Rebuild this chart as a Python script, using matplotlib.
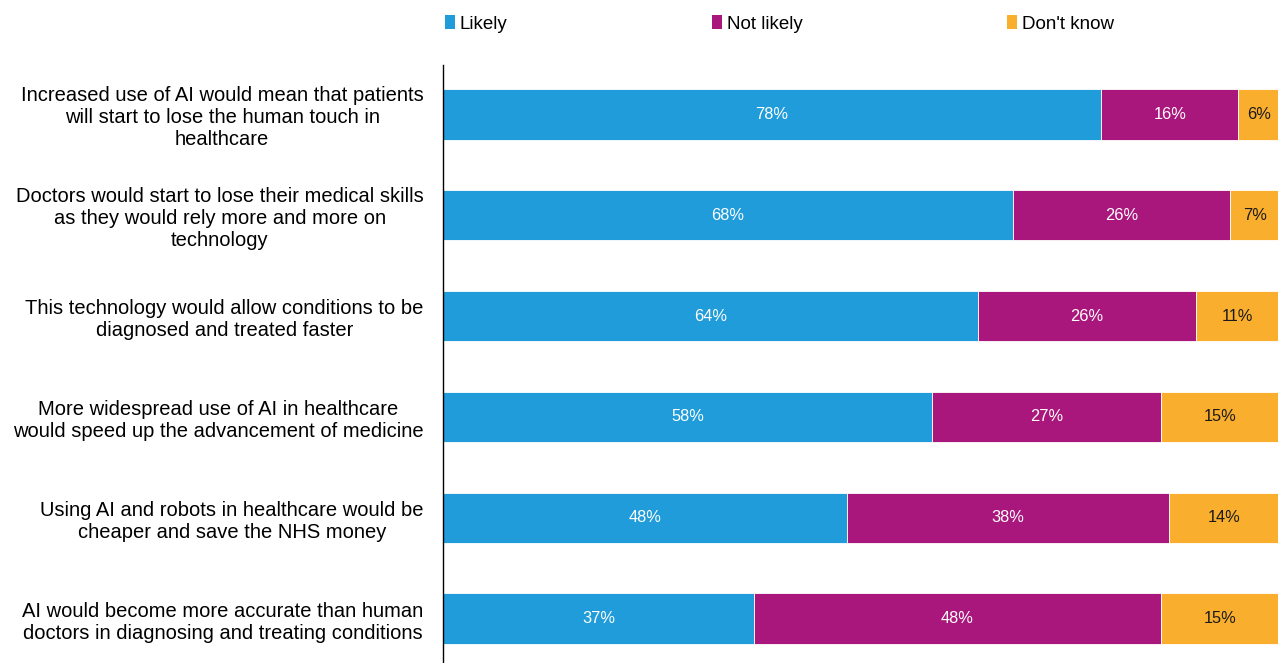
import numpy as np
import matplotlib.pyplot as plt
from matplotlib.patches import Patch

plt.rcParams['font.family'] = ['Liberation Sans', 'DejaVu Sans']

statements = [
    "Increased use of AI would mean that patients\nwill start to lose the human touch in\nhealthcare",
    "Doctors would start to lose their medical skills\nas they would rely more and more on\ntechnology",
    "This technology would allow conditions to be\ndiagnosed and treated faster",
    "More widespread use of AI in healthcare\nwould speed up the advancement of medicine",
    "Using AI and robots in healthcare would be\ncheaper and save the NHS money",
    "AI would become more accurate than human\ndoctors in diagnosing and treating conditions",
]
# bar widths (unrounded)
likely = [78.7, 68.1, 64.0, 58.5, 48.3, 37.2]
not_likely = [16.4, 26.0, 26.0, 27.3, 38.5, 48.6]
dont_know = [4.9, 5.9, 10.0, 14.2, 13.2, 14.2]
# labels printed on the bars
likely_lbl = ['78%', '68%', '64%', '58%', '48%', '37%']
not_likely_lbl = ['16%', '26%', '26%', '27%', '38%', '48%']
dont_know_lbl = ['6%', '7%', '11%', '15%', '14%', '15%']

series = ['Likely', 'Not likely', "Don't know"]
colors = ['#1F9CD9', '#A9167C', '#F9AE2E']
txtcol = ['white', 'white', '#1a1a1a']

fig = plt.figure(figsize=(12.78, 6.63), dpi=100)
ax = fig.add_axes([443/1278, -0.009, 1 - 443/1278 + 0.001, 0.911])

y = np.arange(len(statements))
left = np.zeros(len(statements))
for vals, lbls, c, tc in zip([likely, not_likely, dont_know],
                             [likely_lbl, not_likely_lbl, dont_know_lbl],
                             colors, txtcol):
    vals = np.array(vals)
    ax.barh(y, vals, left=left, height=0.5, color=c, edgecolor='white', linewidth=0.6)
    for yi, l, v, t in zip(y, left, vals, lbls):
        ax.text(l + v / 2, yi, t, ha='center', va='center', color=tc, fontsize=11.8)
    left = left + vals

ax.set_xlim(0, 100)
ax.set_ylim(5.5, -0.49)
ax.set_yticks(y)
ax.set_yticklabels(statements, fontsize=14.5, multialignment='center', linespacing=1.2)
ax.tick_params(axis='y', length=0, pad=14)
ax.set_xticks([])
for s in ['top', 'right', 'bottom']:
    ax.spines[s].set_visible(False)
ax.spines['left'].set_color('black')
ax.spines['left'].set_linewidth(1.0)

handles = [Patch(facecolor=c, edgecolor='none') for c in colors]
fig.legend(handles, series, loc='center left', bbox_to_anchor=(428/1278, 1 - 24/663),
           ncol=3, frameon=False, fontsize=13.5, handlelength=0.55, handleheight=0.75,
           handletextpad=0.25, columnspacing=10.9)

fig.savefig('out.png', dpi=100)
